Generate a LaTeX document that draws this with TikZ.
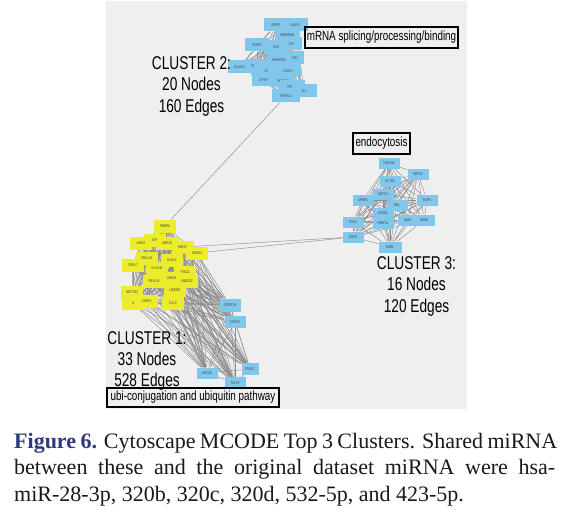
\documentclass[tikz,border=0pt]{standalone}
\usepackage{fontspec}
\newfontfamily\narrowsans[FakeStretch=0.74]{Liberation Sans}
\newfontfamily\capserif{Liberation Serif}
\definecolor{panel}{RGB}{239,239,240}
\definecolor{nblue}{RGB}{128,199,235}
\definecolor{nyellow}{RGB}{236,236,44}
\definecolor{egray}{RGB}{140,140,140}
\definecolor{capblue}{RGB}{44,56,122}
\definecolor{captext}{RGB}{25,25,25}
\pgfdeclarelayer{bg}
\pgfdeclarelayer{edges}
\pgfsetlayers{bg,edges,main}
\begin{document}
\begin{tikzpicture}[x=1pt,y=-1pt,
  bnode/.style={fill=nblue, inner sep=0pt, minimum width=21pt, minimum height=11pt,
    font=\narrowsans\fontsize{4}{4}\selectfont, text=black!75},
  ynode/.style={bnode, fill=nyellow, minimum width=22pt, minimum height=13pt},
  bignode/.style={bnode, minimum width=25pt, minimum height=13pt},
  netedge/.style={draw=egray, line width=0.45pt},
  clusterlbl/.style={font=\narrowsans\fontsize{18.5}{21.3}\selectfont, align=center,
    inner sep=0pt, anchor=north, text=black},
  tagbox/.style={draw=black, line width=1.4pt, font=\narrowsans\fontsize{13.3}{14}\selectfont,
    inner sep=0pt, text=black},
  capline/.style={font=\capserif\fontsize{22}{26}\selectfont, anchor=base west,
    inner sep=0pt, text=captext}
]
\useasboundingbox (0,0) rectangle (585,513);
\begin{pgfonlayer}{bg}
  \fill[panel] (106,1) rectangle (467,409);
\end{pgfonlayer}

% ---------------- Cluster 2 ----------------
\node[bignode] (srsf1)   at (276,25) {SRSF1};
\node[bignode] (u2af1)   at (295,25) {U2AF1};
\node[bignode] (hnrnpab) at (287,35) {HNRNPAB};
\node[bignode] (srsf2)   at (289,44) {SRSF2};
\node[bignode] (pcbp2)   at (257,45) {PCBP2};
\node[bignode] (fus)     at (276,47) {FUS};
\node[bignode] (hnrnpa1) at (291,58) {HNRNPA1};
\node[bignode] (hnrnpa2) at (279,60) {HNRNPA2};
\node[bignode] (elavl1)  at (240,67) {ELAVL1};
\node[bignode] (prpf19)  at (257,66) {PRPF19};
\node[bignode] (js)      at (266,71) {JS};
\node[bignode] (u2af2)   at (288,71) {U2AF2};
\node[bignode] (srsf7)   at (282,81) {SRSF7};
\node[bignode] (cpsf7)   at (264,80) {CPSF7};
\node[bignode] (pcf11)   at (292,87) {PCF11};
\node[bignode] (jl1)     at (304,91) {JL1};
\node[bignode, minimum width=28pt] (papola) at (286,96) {PAPOLA};

% ---------------- Cluster 3 ----------------
\node[bnode] (tgoln2) at (389,163) {TGOLN2};
\node[bnode] (reps2)  at (418,174) {REPS2};
\node[bnode] (actr3)  at (390,181) {ACTR3};
\node[bnode] (arrb1)  at (363,200) {ARRB1};
\node[bnode] (agfg1)  at (383,194) {AGFG1};
\node[bnode] (bail)   at (397,205) {BAIL};
\node[bnode] (sgip1)  at (427,200) {SGIP1};
\node[bnode] (ap2m1)  at (383,213) {AP2M1};
\node[bnode] (fnbp1l) at (383,223) {FNBP1L};
\node[bnode] (aak1)   at (408,220) {AAK1};
\node[bnode] (absb)   at (424,220) {ABSB};
\node[bnode] (itsn1)  at (353,222) {ITSN1};
\node[bnode] (egfr)   at (353,237) {EGFR};
\node[bnode, minimum width=23pt] (dab2) at (390,247) {DAB2};

% ---------------- Cluster 1 ----------------
\node[ynode] (rbbp6)  at (165,226) {RBBP6};
\node[ynode] (skp2)   at (155,240) {SKP2};
\node[ynode] (ube2i)  at (141,243) {UBE2I};
\node[ynode] (ube2d1) at (168,243) {UBE2D1};
\node[ynode] (smhd1)  at (183,247) {SMHD1};
\node[ynode] (nedd4)  at (197,253) {NEDD4};
\node[ynode] (fbxl16) at (147,258) {FBXL16};
\node[ynode] (klhl2)  at (172,260) {KLHL2};
\node[ynode] (fbxl7)  at (133,265) {FBXL7};
\node[ynode] (klhl42) at (157,268) {KLHL42};
\node[ynode] (asb12)  at (185,272) {ASB12};
\node[ynode] (ube2b)  at (172,278) {UBE2B};
\node[ynode] (fbxl19) at (154,281) {FBXL19};
\node[ynode] (ube2g2) at (187,281) {UBE2G2};
\node[ynode] (hectd2) at (132,292) {HECTD2};
\node[ynode] (ube2w)  at (175,290) {UBE2W};
\node[ynode] (i1)     at (133,303) {I1};
\node[ynode] (znrf1)  at (147,301) {ZNRF1};
\node[ynode] (cul5)   at (173,303) {CUL5};
\node[bnode, minimum height=13pt] (cops7b) at (230,305) {COPS7B};
\node[bnode, minimum height=12pt] (cops2)  at (235,322) {COPS2};
\node[bnode, minimum width=17pt, minimum height=12pt] (fbx3c) at (250,369) {FBX3C};
\node[bnode] (socs6)  at (207,373) {SOCS6};
\node[bnode, minimum height=12pt] (tulp4) at (235,383) {TULP4};

% ---------------- Edges ----------------
\def\clustertwo{srsf1,u2af1,hnrnpab,srsf2,pcbp2,fus,hnrnpa1,hnrnpa2,elavl1,prpf19,js,u2af2,srsf7,cpsf7,pcf11,jl1,papola}
\def\clusterthree{tgoln2,reps2,actr3,arrb1,agfg1,bail,sgip1,ap2m1,fnbp1l,aak1,absb,itsn1,egfr,dab2}
\def\clusterone{rbbp6,skp2,ube2i,ube2d1,smhd1,nedd4,fbxl16,klhl2,fbxl7,klhl42,asb12,ube2b,fbxl19,ube2g2,hectd2,ube2w,i1,znrf1,cul5,cops7b,cops2,fbx3c,socs6,tulp4}
\begin{pgfonlayer}{edges}
  \foreach \a [count=\i] in \clustertwo {
    \foreach \b [count=\j] in \clustertwo {
      \ifnum\j>\i\relax \draw[netedge] (\a) -- (\b); \fi }}
  \foreach \a [count=\i] in \clusterthree {
    \foreach \b [count=\j] in \clusterthree {
      \ifnum\j>\i\relax \draw[netedge] (\a) -- (\b); \fi }}
  \foreach \a [count=\i] in \clusterone {
    \foreach \b [count=\j] in \clusterone {
      \ifnum\j>\i\relax \draw[netedge] (\a) -- (\b); \fi }}
  \draw[netedge] (rbbp6) -- (papola);
  \draw[netedge] (smhd1) -- (egfr);
  \draw[netedge] (nedd4) -- (egfr);
\end{pgfonlayer}

% ---------------- Labels ----------------
\node[clusterlbl] (c2lbl) at (191.5,56.5) {CLUSTER 2:\\20 Nodes\\160 Edges};
\node[clusterlbl] (c3lbl) at (416.5,256.5) {CLUSTER 3:\\16 Nodes\\120 Edges};
\node[clusterlbl] (c1lbl) at (147,331) {CLUSTER 1:\\33 Nodes\\528 Edges};

\node[tagbox, minimum width=153pt, minimum height=21pt] (tagmrna) at (381.5,37.5) {mRNA splicing/processing/binding};
\node[tagbox, minimum width=57pt, minimum height=21pt] (tagendo) at (381.5,143.5) {endocytosis};
\node[tagbox, minimum width=172pt, minimum height=19pt] (tagubi) at (193,397.5) {ubi-conjugation and ubiquitin pathway};

% ---------------- Caption ----------------
\node[capline] (cap1) at (14,448) {\makebox[543pt][s]{\textcolor{capblue}{\bfseries Figure 6.} Cytoscape MCODE Top 3 Clusters. Shared miRNA}};
\node[capline] (cap2) at (14,474.5) {\makebox[541pt][s]{between these and the original dataset miRNA were hsa-}};
\node[capline] (cap3) at (14,501) {miR-28-3p, 320b, 320c, 320d, 532-5p, and 423-5p.};
\end{tikzpicture}
\end{document}
